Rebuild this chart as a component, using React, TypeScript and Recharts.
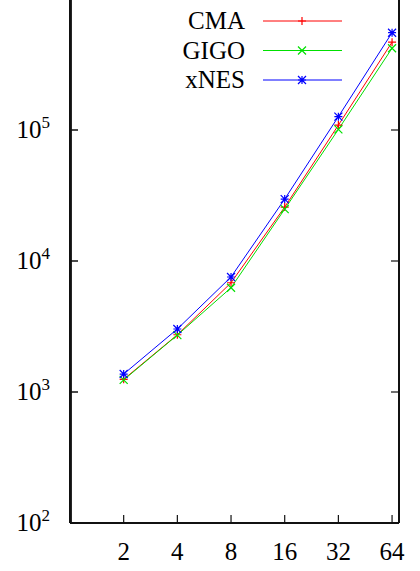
import { LineChart, Line, XAxis, YAxis, ReferenceArea } from 'recharts';

const dims = [2, 4, 8, 16, 32, 64];
const cmaEvals = [1250, 2735, 6820, 25800, 109000, 468000];
const gigoEvals = [1236, 2720, 6250, 24900, 101000, 421000];
const xnesEvals = [1371, 3027, 7550, 29700, 126500, 553000];
const yTicks = [100, 1000, 10000, 100000];

const seriesNames = ['CMA', 'GIGO', 'xNES'];
const seriesColors = ['#ff0000', '#00e000', '#0000ff'];
const seriesKeys = ['cma', 'gigo', 'xnes'];

const data = dims.map((d, i) => ({
  dim: d,
  cma: cmaEvals[i],
  gigo: gigoEvals[i],
  xnes: xnesEvals[i],
}));

const FONT = '"Liberation Serif", "DejaVu Serif", serif';
const INK = '#111111';

const markerPath = (kind: number, x: number, y: number, r = 4) => {
  const plus = `M${x - r},${y}H${x + r}M${x},${y - r}V${y + r}`;
  const cross = `M${x - r},${y - r}L${x + r},${y + r}M${x - r},${y + r}L${x + r},${y - r}`;
  if (kind === 0) return plus;
  if (kind === 1) return cross;
  return plus + cross;
};

const makeDot = (kind: number, color: string) => (props: any) => {
  const { cx, cy, index } = props;
  if (cx == null || cy == null) return <g key={index} />;
  return (
    <path
      key={index}
      d={markerPath(kind, cx, cy)}
      stroke={color}
      strokeWidth={1.2}
      fill="none"
    />
  );
};

const BottomTick = (props: any) => {
  const { x, y, payload } = props;
  return (
    <g>
      <line x1={x} y1={y} x2={x} y2={y - 8} stroke={INK} strokeWidth={1.2} />
      <text x={x} y={y + 37} textAnchor="middle" fontSize={25} fill="#000">
        {payload.value}
      </text>
    </g>
  );
};

const TopTick = (props: any) => {
  const { x, y } = props;
  return <line x1={x} y1={y} x2={x} y2={y + 8} stroke={INK} strokeWidth={1.2} />;
};

const LeftTick = (props: any) => {
  const { x, y, payload } = props;
  const exp = Math.round(Math.log10(payload.value));
  return (
    <g>
      <rect x={x} y={y - 0.75} width={8} height={1.5} fill={INK} />
      <text x={x - 20} y={y + 8} textAnchor="end" fontSize={25} fill="#000">
        <tspan>10</tspan>
        <tspan dy={-10} fontSize={17}>{exp}</tspan>
      </text>
    </g>
  );
};

const RightTick = (props: any) => {
  const { x, y } = props;
  return <line x1={x} y1={y} x2={x - 8} y2={y} stroke={INK} strokeWidth={1.2} />;
};

const KeyBox = () => (
  <svg
    width={420}
    height={100}
    style={{ position: 'absolute', left: 0, top: 0, pointerEvents: 'none' }}
  >
    {seriesNames.map((name, i) => {
      const yRow = 21 + i * 29.5;
      return (
        <g key={name}>
          <text x={245} y={yRow + 8} textAnchor="end" fontSize={25} fill="#000">
            {name}
          </text>
          <line x1={263} y1={yRow} x2={342} y2={yRow} stroke={seriesColors[i]} strokeWidth={1} />
          <path d={markerPath(i, 302, yRow)} stroke={seriesColors[i]} strokeWidth={1.2} fill="none" />
        </g>
      );
    })}
  </svg>
);

export default function App() {
  return (
    <div
      style={{
        position: 'absolute',
        left: 0,
        top: 0,
        width: 420,
        height: 571,
        background: '#fff',
        fontFamily: FONT,
      }}
    >
      <LineChart
        width={420}
        height={571}
        data={data}
        margin={{ top: -1, right: 0, bottom: 0, left: 0 }}
      >
        <XAxis
          dataKey="dim"
          type="number"
          scale="log"
          domain={[1, 70]}
          ticks={dims}
          allowDataOverflow
          height={48}
          tickSize={0}
          tickMargin={0}
          tick={<BottomTick />}
          axisLine={{ stroke: INK, strokeWidth: 2 }}
          tickLine={false}
          interval={0}
        />
        <XAxis
          xAxisId="top"
          orientation="top"
          dataKey="dim"
          type="number"
          scale="log"
          domain={[1, 70]}
          ticks={dims}
          allowDataOverflow
          height={0}
          tickSize={0}
          tickMargin={0}
          tick={<TopTick />}
          axisLine={false}
          tickLine={false}
          interval={0}
        />
        <YAxis
          type="number"
          scale="log"
          domain={[100, 1000000]}
          ticks={yTicks}
          allowDataOverflow
          width={70}
          tickSize={0}
          tickMargin={0}
          tick={<LeftTick />}
          axisLine={{ stroke: INK, strokeWidth: 2 }}
          tickLine={false}
          interval={0}
        />
        <YAxis
          yAxisId="right"
          orientation="right"
          type="number"
          scale="log"
          domain={[100, 1000000]}
          ticks={yTicks}
          allowDataOverflow
          width={21}
          tickSize={0}
          tickMargin={0}
          tick={<RightTick />}
          axisLine={{ stroke: INK, strokeWidth: 2 }}
          tickLine={false}
          interval={0}
        />
        <ReferenceArea
          x1={1}
          x2={1.025}
          y1={100}
          y2={1000000}
          fill={INK}
          fillOpacity={1}
          stroke="none"
          ifOverflow="visible"
        />
        {seriesKeys.map((k, i) => (
          <Line
            key={k}
            dataKey={k}
            name={seriesNames[i]}
            stroke={seriesColors[i]}
            strokeWidth={1}
            dot={makeDot(i, seriesColors[i])}
            activeDot={false}
            isAnimationActive={false}
          />
        ))}
      </LineChart>
      <KeyBox />
    </div>
  );
}
